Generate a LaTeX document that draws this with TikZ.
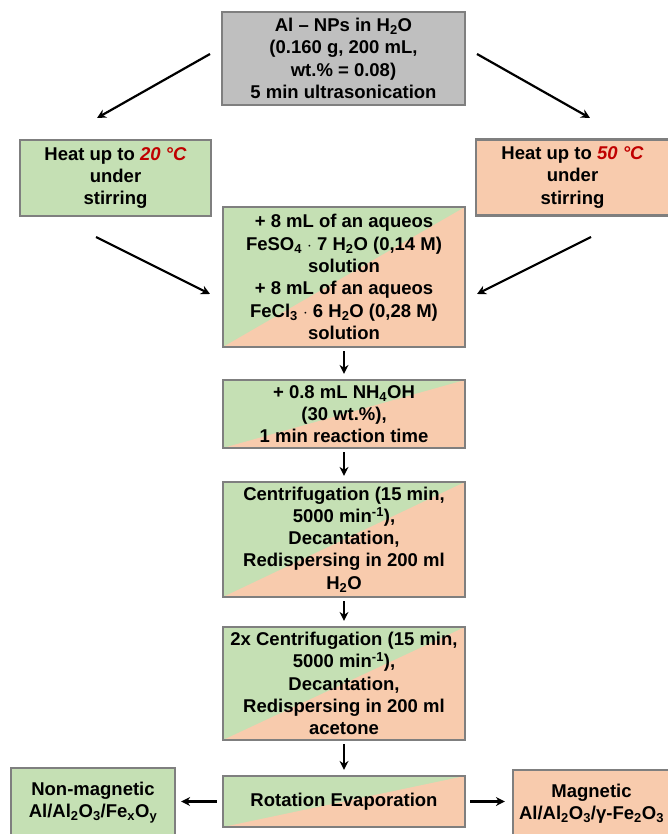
\documentclass[tikz,border=0pt]{standalone}
\usepackage{fontspec}
\setmainfont{Liberation Sans}
\usetikzlibrary{arrows.meta}
\definecolor{boxgray}{RGB}{127,127,127}
\definecolor{topgray}{RGB}{191,191,191}
\definecolor{lgreen}{HTML}{C5E0B4}
\definecolor{lorange}{HTML}{F8CBAD}
\definecolor{tempred}{HTML}{C00000}
\newcommand{\temp}[1]{\textcolor{tempred}{\itshape #1}}

\begin{document}
\begin{tikzpicture}[x=1pt, y=-1pt,
    box/.style={draw=boxgray, line width=2.2pt, align=center, inner sep=0pt,
      font=\bfseries\fontsize{18.5}{22.3}\selectfont},
    both/.style={box, fill=lgreen, path picture={
        \fill[lorange] (path picture bounding box.south west)
          -- (path picture bounding box.north east) |- cycle;}},
    arr/.style={-{Stealth[length=9pt, width=9pt]}, line width=2.2pt}]
      \clip (0,0) rectangle (668,834);
      \node[box, fill=topgray, minimum width=243pt, minimum height=93pt] (Al) at (343.5,58.5)
        {Al -- NPs in H\textsubscript{2}O\\(0.160 g, 200 mL,\\wt.\% = 0.08)\\5 min ultrasonication};
      \node[box, fill=lgreen, minimum width=191pt, minimum height=76pt] (L) at (115.5,178)
        {Heat up to \temp{20 °C}\\under\\stirring};
      \node[box, fill=lorange, minimum width=193pt, minimum height=76pt] (R) at (572.5,177.5)
        {Heat up to \temp{50 °C}\\under\\stirring};
      \node[both, minimum width=242pt, minimum height=140pt] (Fe) at (344,277)
        {+ 8 mL of an aqueos\\FeSO\textsubscript{4} $\cdot$ 7 H\textsubscript{2}O (0,14 M)\\solution\\
         + 8 mL of an aqueos\\FeCl\textsubscript{3} $\cdot$ 6 H\textsubscript{2}O (0,28 M)\\solution};
      \node[both, minimum width=242pt, minimum height=68pt] (NH) at (344,414)
        {+ 0.8 mL NH\textsubscript{4}OH\\(30 wt.\%),\\1 min reaction time};
      \node[both, minimum width=242pt, minimum height=115pt] (C1) at (344,539.5)
        {Centrifugation (15 min,\\5000 min\textsuperscript{-1}),\\Decantation,\\Redispersing in 200 ml\\H\textsubscript{2}O};
      \node[both, minimum width=242pt, minimum height=113pt] (C2) at (344,683.5)
        {2x Centrifugation (15 min,\\5000 min\textsuperscript{-1}),\\Decantation,\\Redispersing in 200 ml\\acetone};
      \node[both, minimum width=242pt, minimum height=51pt] (RE) at (344,801.5)
        {Rotation Evaporation};
      \node[box, fill=lgreen, minimum width=164pt, minimum height=69pt] (nm) at (93,802.5)
        {Non-magnetic\\Al/Al\textsubscript{2}O\textsubscript{3}/Fe\textsubscript{x}O\textsubscript{y}};
      \node[box, fill=lorange, minimum width=157pt, minimum height=67pt] (m) at (591.5,803.5)
        {Magnetic\\Al/Al\textsubscript{2}O\textsubscript{3}/γ-Fe\textsubscript{2}O\textsubscript{3}};
      \coordinate (a1) at (210,54);
      \coordinate (a2) at (97,118);
      \coordinate (b1) at (477,54);
      \coordinate (b2) at (590,118);
      \coordinate (c1) at (96,237);
      \coordinate (c2) at (210,294);
      \coordinate (d1) at (591,237);
      \coordinate (d2) at (477,294);
      \draw[arr] (a1) -- (a2);
      \draw[arr] (b1) -- (b2);
      \draw[arr] (c1) -- (c2);
      \draw[arr] (d1) -- (d2);
      \draw[arr, shorten <=3pt, shorten >=5pt] (Fe) -- (NH);
      \draw[arr, shorten <=3pt, shorten >=5pt] (NH) -- (C1);
      \draw[arr, shorten <=3pt, shorten >=5pt] (C1) -- (C2);
      \draw[arr, shorten <=3pt, shorten >=5pt] (C2) -- (RE);
      \draw[arr, shorten <=5pt, shorten >=5pt] (RE.west) -- (RE.west -| nm.east);
      \draw[arr, shorten <=4pt, shorten >=7pt] (RE.east) -- (RE.east -| m.west);
    \end{tikzpicture}
\end{document}
